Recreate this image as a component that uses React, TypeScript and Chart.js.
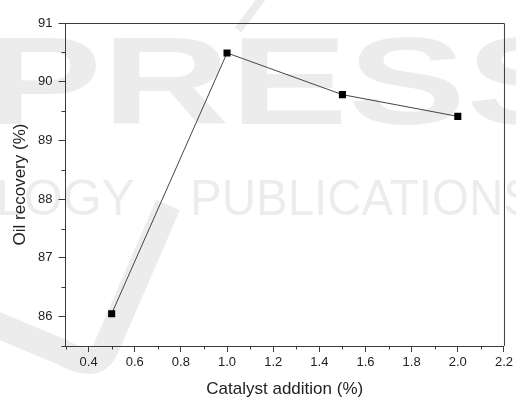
import React, { useEffect, useRef } from "react";
import { Chart, registerables } from "chart.js";

Chart.register(...registerables);

const catalyst = [0.5, 1.0, 1.5, 2.0];
const oilRecovery = [86.05, 90.49, 89.78, 89.41];
const xTicks = [0.4, 0.6, 0.8, 1.0, 1.2, 1.4, 1.6, 1.8, 2.0, 2.2];
const xMinor = [0.3, 0.5, 0.7, 0.9, 1.1, 1.3, 1.5, 1.7, 1.9, 2.1];
const yTicks = [86, 87, 88, 89, 90, 91];
const yMinor = [85.5, 86.5, 87.5, 88.5, 89.5, 90.5];

const FONT = "'Liberation Sans', Arial, sans-serif";
const AXIS = "#3a3a3a";
const WM = "rgba(0,0,0,0.075)";

const framePlugin = {
  id: "frame",
  beforeDraw(chart: any) {
    const ctx = chart.ctx;
    ctx.save();
    ctx.fillStyle = WM;
    ctx.strokeStyle = WM;
    // swoosh watermark
    ctx.lineCap = "butt";
    ctx.lineJoin = "round";
    ctx.lineWidth = 26;
    ctx.beginPath();
    ctx.moveTo(-10, 322);
    ctx.lineTo(62, 352);
    ctx.quadraticCurveTo(96, 372, 106, 348);
    ctx.lineTo(168, 205);
    ctx.stroke();
    ctx.lineWidth = 8;
    ctx.beginPath();
    ctx.moveTo(238, 30);
    ctx.lineTo(262, -2);
    ctx.stroke();
    // text watermark
    ctx.font = `bold 118px ${FONT}`;
    ctx.textBaseline = "alphabetic";
    ctx.save();
    ctx.translate(-16, 124);
    ctx.scale(1.5, 1.05);
    ctx.fillText("PRESS", 0, 0);
    ctx.restore();
    ctx.font = `50px ${FONT}`;
    ctx.fillText("LOGY", -4, 215);
    ctx.save();
    ctx.translate(190, 215);
    ctx.scale(0.95, 1);
    ctx.fillText("PUBLICATIONS", 0, 0);
    ctx.restore();
    ctx.restore();
  },
  afterDraw(chart: any) {
    const ctx = chart.ctx;
    const { left, right, top, bottom } = chart.chartArea;
    const xs = chart.scales.x;
    const ys = chart.scales.y;
    ctx.save();
    ctx.strokeStyle = AXIS;
    ctx.lineWidth = 1;
    ctx.beginPath();
    ctx.moveTo(left, top + 0.5);
    ctx.lineTo(right + 0.5, top + 0.5);
    ctx.lineTo(right + 0.5, bottom);
    ctx.stroke();
    ctx.beginPath();
    for (const v of xMinor) {
      const px = Math.round(xs.getPixelForValue(v)) + 0.5;
      ctx.moveTo(px, bottom);
      ctx.lineTo(px, bottom + 3.5);
    }
    for (const v of yMinor) {
      const py = Math.round(ys.getPixelForValue(v)) + 0.5;
      ctx.moveTo(left, py);
      ctx.lineTo(left - 4, py);
    }
    ctx.stroke();
    ctx.restore();
  },
};

export default function App() {
  const ref = useRef<HTMLCanvasElement>(null);
  useEffect(() => {
    const chart = new Chart(ref.current!, {
      type: "line",
      data: {
        datasets: [
          {
            data: catalyst.map((x, i) => ({ x, y: oilRecovery[i] })),
            borderColor: "#444",
            borderWidth: 1,
            pointStyle: "rect",
            pointRadius: 5,
            pointBackgroundColor: "#000",
            pointBorderColor: "#000",
            pointBorderWidth: 0,
            tension: 0,
          },
        ],
      },
      plugins: [framePlugin],
      options: {
        animation: false,
        responsive: false,
        maintainAspectRatio: false,
        layout: { padding: { left: 0, top: 23, right: 9, bottom: 0 } },
        plugins: { legend: { display: false }, tooltip: { enabled: false } },
        scales: {
          x: {
            type: "linear",
            min: 0.3,
            max: 2.2,
            afterBuildTicks: (s: any) => {
              s.ticks = xTicks.map((v) => ({ value: v }));
            },
            afterFit: (s: any) => {
              s.height = 52;
            },
            grid: { display: true, drawOnChartArea: false, drawTicks: true, tickLength: 6, color: AXIS },
            border: { display: true, color: AXIS, width: 1 },
            ticks: {
              padding: 3,
              color: "#222",
              font: { family: FONT, size: 13 },
              maxRotation: 0,
              autoSkip: false,
              callback: (v: any) => Number(v).toFixed(1),
            },
            title: {
              display: true,
              text: "Catalyst addition (%)",
              color: "#222",
              font: { family: FONT, size: 17, lineHeight: 1 },
              padding: { top: 0, bottom: 0 },
            },
          },
          y: {
            type: "linear",
            min: 85.5,
            max: 91,
            afterBuildTicks: (s: any) => {
              s.ticks = yTicks.map((v) => ({ value: v }));
            },
            afterFit: (s: any) => {
              s.width = 65.5;
            },
            grid: { display: true, drawOnChartArea: false, drawTicks: true, tickLength: 7, color: AXIS },
            border: { display: true, color: AXIS, width: 1 },
            ticks: {
              padding: 6,
              color: "#222",
              font: { family: FONT, size: 13 },
              autoSkip: false,
              callback: (v: any) => String(v),
            },
            title: {
              display: true,
              text: "Oil recovery (%)",
              color: "#222",
              font: { family: FONT, size: 17, lineHeight: 1 },
              padding: { top: 12, bottom: 0 },
            },
          },
        },
      },
    });
    return () => chart.destroy();
  }, []);
  return (
    <div style={{ position: "fixed", left: 0, top: 0, width: 516, height: 398, background: "#fff" }}>
      <canvas ref={ref} width={516} height={398} style={{ width: 516, height: 398 }} />
    </div>
  );
}
